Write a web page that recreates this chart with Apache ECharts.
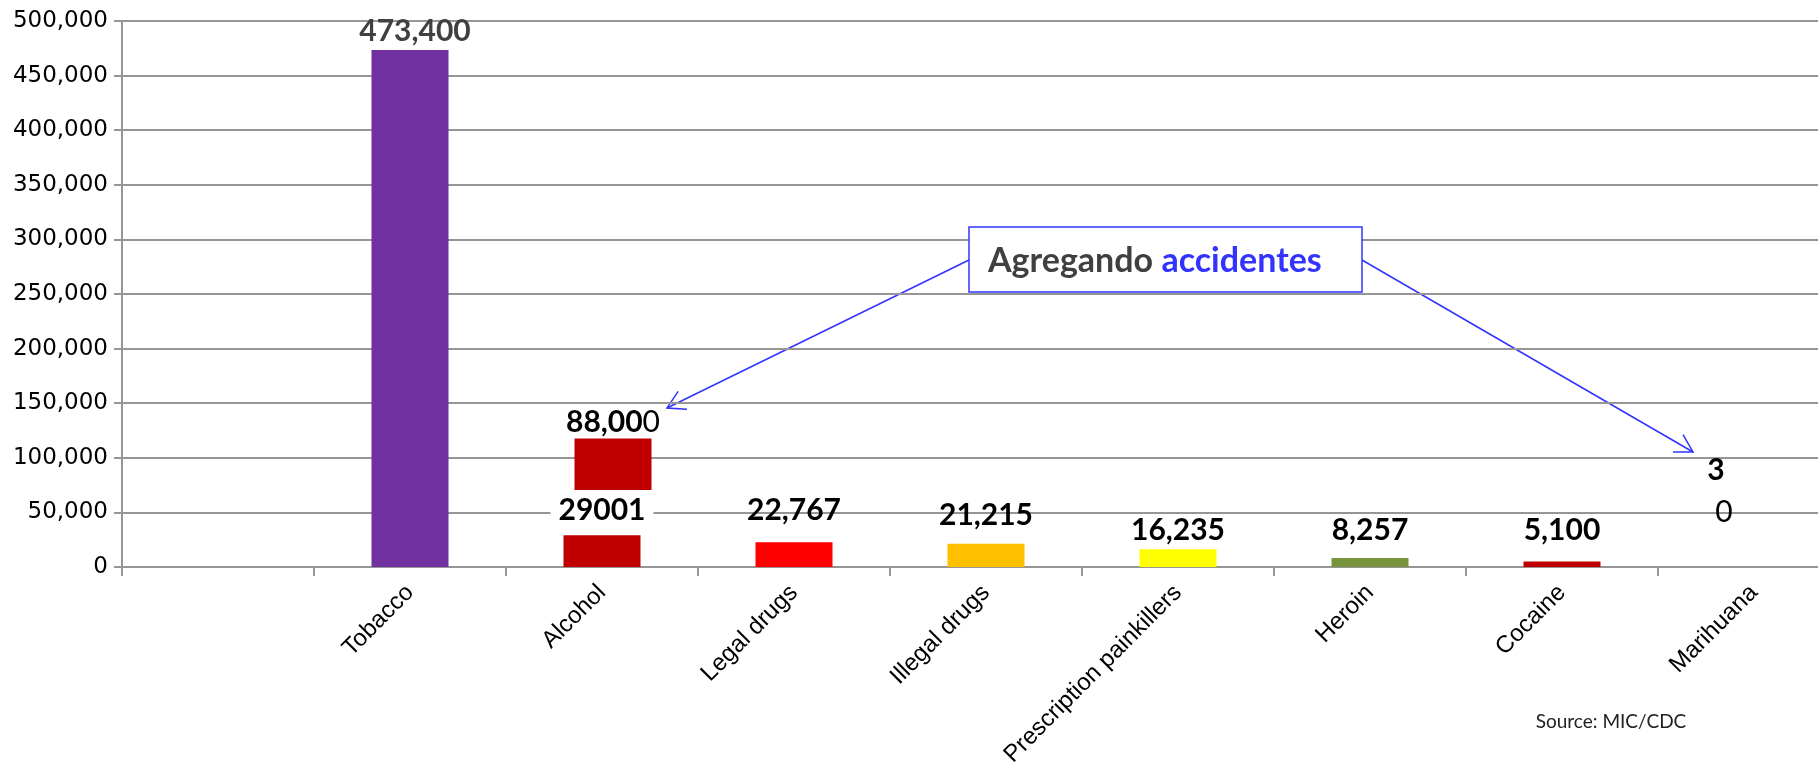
<!DOCTYPE html>
<html>
<head>
<meta charset="utf-8">
<script src="https://cdn.jsdelivr.net/npm/echarts@6/dist/echarts.min.js"></script>
<style>
  html, body { margin: 0; padding: 0; background: #ffffff; }
  #chart { width: 1818px; height: 763px; }
</style>
</head>
<body>
<div id="chart"></div>
<script>
// data
const categories = ['', 'Tobacco', 'Alcohol', 'Legal drugs', 'Illegal drugs', 'Prescription painkillers', 'Heroin', 'Cocaine', 'Marihuana'];
const deaths = ['-', 473400, 29001, 22767, 21215, 16235, 8257, 5100, 30];
const deathLabels = ['', '473,400', '29001', '22,767', '21,215', '16,235', '8,257', '5,100', '30'];
// alcohol incl. accidents: floating block (hidden base + visible part)
const accidentBase = ['-', '-', 70400, '-', '-', '-', '-', '-', '-'];
const accidentBlock = ['-', '-', 47300, '-', '-', '-', '-', '-', '-'];
const accidentLabel = '88,000';
const yMin = 0;
const yMax = 500000;
const yStep = 50000;
const note = ['Agregando ', 'accidentes'];
const source = 'Source: MIC/CDC';

const COLORS = {
  BARS: ['#ffffff', '#7030A0', '#C00000', '#FF0000', '#FFC000', '#FFFF00', '#77933C', '#C00000', '#C00000'],
  GRID: '#969696',
  TEXT: '#000000',
  DARK: '#404040',
  BLUE: '#3333FF',
};
// how far each value label sits above its bar
const labelGap = [0, 4, 10, 17, 14, 4, 13, 16, 34];

const GRID = { left: 122, top: 21, width: 1728, height: 546, outerBoundsMode: 'none', containLabel: false };
const BAR_W = 77;

const chart = echarts.init(document.getElementById('chart'), null, { renderer: 'canvas' });

const numFont = { fontFamily: 'Lato', fontWeight: 'bold', fontSize: 30, color: COLORS.TEXT };

const mainData = deaths.map((v, i) => ({
  value: v,
  itemStyle: { color: COLORS.BARS[i] },
  label: Object.assign(
    { distance: labelGap[i] },
    i === 1 ? { color: COLORS.DARK, offset: [5, 0] } : {},
    i === 2 ? { backgroundColor: '#ffffff', padding: [0, 8] } : {},
    i === 8 ? { offset: [-34, 0] } : {}
  ),
}));

const arrow = (from, tip) => {
  const a = Math.atan2(from[1] - tip[1], from[0] - tip[0]);
  const len = 20, spread = Math.PI / 6;
  return [
    { type: 'line', shape: { x1: from[0], y1: from[1], x2: tip[0], y2: tip[1] }, style: { stroke: COLORS.BLUE, lineWidth: 1.5 } },
    { type: 'polyline', shape: { points: [
      [tip[0] + len * Math.cos(a + spread), tip[1] + len * Math.sin(a + spread)],
      tip,
      [tip[0] + len * Math.cos(a - spread), tip[1] + len * Math.sin(a - spread)],
    ] }, style: { stroke: COLORS.BLUE, lineWidth: 1.5, fill: null } },
  ];
};

const option = {
  animation: false,
  grid: [
    Object.assign({}, GRID),
    Object.assign({}, GRID, { left: GRID.left + 11 }),
  ],
  xAxis: [
    {
      type: 'category',
      gridIndex: 0,
      data: categories,
      axisLine: { lineStyle: { color: COLORS.GRID, width: 2 } },
      axisTick: { show: true, length: 9, lineStyle: { color: COLORS.GRID, width: 2 } },
      axisLabel: { rotate: 45, margin: 22, fontFamily: 'Liberation Sans', fontSize: 24, color: COLORS.TEXT, interval: 0 },
      splitLine: { show: false },
    },
    { type: 'category', gridIndex: 1, data: categories, show: false },
  ],
  yAxis: [
    {
      type: 'value',
      gridIndex: 0,
      min: yMin,
      max: yMax,
      interval: yStep,
      axisLine: { show: true, lineStyle: { color: COLORS.GRID, width: 2 } },
      axisTick: { show: true, length: 8, lineStyle: { color: COLORS.GRID, width: 2 } },
      splitLine: { lineStyle: { color: COLORS.GRID, width: 2 } },
      axisLabel: {
        margin: 14,
        fontFamily: 'DejaVu Sans',
        fontSize: 23,
        color: COLORS.TEXT,
        formatter: (v) => v.toLocaleString('en-US'),
      },
    },
    { type: 'value', gridIndex: 1, min: yMin, max: yMax, show: false },
  ],
  series: [
    {
      name: 'Deaths',
      type: 'bar',
      xAxisIndex: 0,
      yAxisIndex: 0,
      barWidth: BAR_W,
      data: mainData,
      label: Object.assign({
        show: true,
        position: 'top',
        formatter: (p) => p.dataIndex === 8
          ? '{b|3}\n{r|0}'
          : deathLabels[p.dataIndex],
        rich: {
          b: Object.assign({}, numFont, { lineHeight: 42, padding: [0, 8, 0, 0] }),
          r: Object.assign({}, numFont, { fontWeight: 'normal', lineHeight: 42, padding: [0, 0, 0, 8] }),
        },
      }, numFont),
    },
    {
      name: 'base',
      type: 'bar',
      xAxisIndex: 1,
      yAxisIndex: 1,
      stack: 'acc',
      barWidth: BAR_W,
      itemStyle: { color: 'transparent' },
      data: accidentBase,
      silent: true,
    },
    {
      name: 'Alcohol + accidents',
      type: 'bar',
      xAxisIndex: 1,
      yAxisIndex: 1,
      stack: 'acc',
      barWidth: BAR_W,
      itemStyle: { color: COLORS.BARS[2] },
      data: accidentBlock,
      label: {
        show: true,
        position: 'top',
        distance: 1,
        formatter: () => '{b|' + accidentLabel.slice(0, -1) + '}{r|' + accidentLabel.slice(-1) + '}',
        rich: {
          b: Object.assign({}, numFont),
          r: Object.assign({}, numFont, { fontWeight: 'normal' }),
        },
      },
    },
  ],
  graphic: [
    ...arrow([969, 260], [667, 408]),
    ...arrow([1362, 260], [1693, 452]),
    {
      type: 'rect',
      shape: { x: 969, y: 227, width: 393, height: 65 },
      style: { fill: '#ffffff', stroke: COLORS.BLUE, lineWidth: 1.5 },
      z: 10,
    },
    {
      type: 'text',
      x: 988,
      y: 261,
      z: 11,
      style: {
        text: '{g|' + note[0] + '}{b|' + note[1] + '}',
        verticalAlign: 'middle',
        rich: {
          g: { fontFamily: 'Lato', fontWeight: 'bold', fontSize: 34, fill: COLORS.DARK },
          b: { fontFamily: 'Lato', fontWeight: 'bold', fontSize: 34, fill: COLORS.BLUE },
        },
      },
    },
    {
      type: 'text',
      x: 1611,
      y: 722,
      style: {
        text: source,
        align: 'center',
        verticalAlign: 'middle',
        fontFamily: 'Lato',
        fontSize: 19,
        fill: '#222222',
      },
    },
  ],
};

chart.setOption(option);
</script>
</body>
</html>
